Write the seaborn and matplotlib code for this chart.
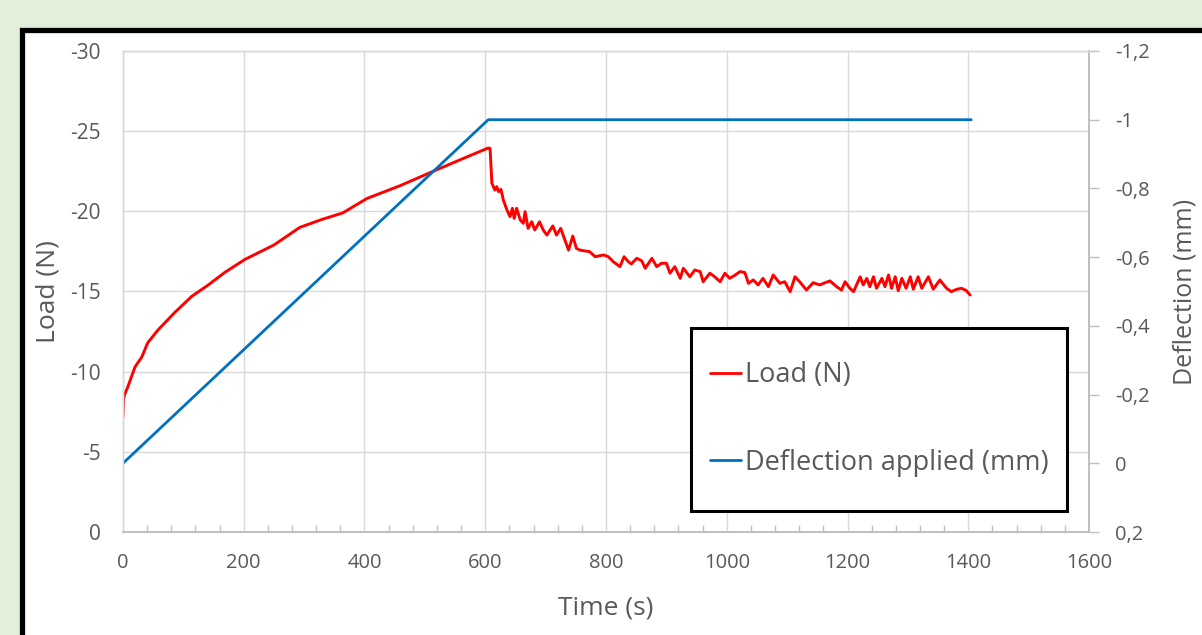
import matplotlib
matplotlib.use("Agg")
import matplotlib.pyplot as plt
import seaborn as sns
import pandas as pd
from matplotlib.patches import Rectangle

# ---------------- data ----------------
load_time = [0, 1, 3, 8, 20, 31, 41, 58, 86, 114, 141, 169, 202, 250, 293, 330, 364, 404,
             459, 514, 570, 605, 608, 611, 616, 619, 622, 626, 630, 636, 641, 645, 648, 652,
             658, 663, 666, 671, 677, 682, 690, 696, 702, 712, 718, 725, 732, 738, 745, 751,
             757, 773, 782, 796, 804, 812, 823, 830, 837, 842, 851, 859, 865, 876, 884, 892,
             900, 906, 914, 923, 928, 939, 947, 956, 961, 972, 980, 989, 997, 1005, 1014,
             1022, 1030, 1036, 1044, 1052, 1060, 1069, 1077, 1088, 1096, 1105, 1113, 1121,
             1132, 1143, 1154, 1163, 1171, 1182, 1190, 1196, 1204, 1210, 1215, 1221, 1226,
             1232, 1237, 1243, 1248, 1257, 1262, 1268, 1273, 1279, 1284, 1290, 1297, 1304,
             1309, 1317, 1323, 1334, 1342, 1353, 1364, 1372, 1381, 1389, 1397, 1403]
load_values = [-7.2, -8.3, -8.6, -9.05, -10.3, -10.9, -11.8, -12.6, -13.7, -14.7, -15.4, -16.2,
               -17.0, -17.9, -19.0, -19.5, -19.9, -20.8, -21.6, -22.5, -23.4, -23.95, -23.93,
               -21.75, -21.33, -21.54, -21.23, -21.37, -20.70, -20.08, -19.67, -20.19, -19.56,
               -20.19, -19.46, -19.25, -19.98, -18.94, -19.35, -18.84, -19.35, -18.84, -18.52,
               -19.09, -18.52, -18.94, -18.20, -17.58, -18.46, -17.69, -17.58, -17.48, -17.17,
               -17.28, -17.17, -16.86, -16.55, -17.17, -16.86, -16.72, -17.07, -16.92, -16.45,
               -17.07, -16.55, -16.76, -16.76, -16.14, -16.55, -15.82, -16.45, -15.92, -16.34,
               -16.24, -15.61, -16.14, -15.92, -15.61, -16.14, -15.82, -16.03, -16.24, -16.18,
               -15.51, -15.72, -15.41, -15.82, -15.30, -16.03, -15.51, -15.61, -14.99, -15.92,
               -15.60, -15.09, -15.55, -15.41, -15.55, -15.66, -15.30, -15.09, -15.61, -15.20,
               -14.99, -15.41, -15.92, -15.41, -15.82, -15.30, -15.92, -15.20, -15.82, -15.30,
               -16.03, -15.20, -15.92, -15.05, -15.82, -15.20, -15.92, -15.14, -15.92, -15.20,
               -15.92, -15.14, -15.72, -15.20, -14.99, -15.14, -15.20, -15.05, -14.78]

defl_time = [0, 605, 1405]
defl_values = [0.0, -1.0, -1.0]

x_ticks = [0, 200, 400, 600, 800, 1000, 1200, 1400, 1600]
load_ticks = [0, -5, -10, -15, -20, -25, -30]
load_tick_labels = ["0", "-5", "-10", "-15", "-20", "-25", "-30"]
defl_ticks = [0.2, 0.0, -0.2, -0.4, -0.6, -0.8, -1.0, -1.2]
defl_tick_labels = ["0,2", "0", "-0,2", "-0,4", "-0,6", "-0,8", "-1", "-1,2"]

load_label = "Load (N)"
defl_label = "Deflection applied (mm)"

# ---------------- style ----------------
sns.set_theme(style="white")
plt.rcParams['font.family'] = ['Open Sans', 'DejaVu Sans']

GRID = "#d9d9d9"
AXIS = "#bfbfbf"
TXT = "#595959"
RED = "#ff0000"
BLUE = "#0070c0"

fig = plt.figure(figsize=(12.02, 6.35), dpi=100)
fig.patch.set_facecolor("#e2efda")

# outer black frame (cut off at right and bottom)
frame = Rectangle((0.0187, -0.2), 1.2, 1.1535, transform=fig.transFigure,
                  facecolor="white", edgecolor="black", linewidth=3.8, zorder=-10)
fig.patches.append(frame)

ax = fig.add_axes([0.1023, 0.1622, 0.8037, 0.7575])
ax.set_facecolor("none")
ax2 = ax.twinx()
ax2.set_facecolor("none")

df_load = pd.DataFrame({"t": load_time, "v": load_values})
df_defl = pd.DataFrame({"t": defl_time, "v": defl_values})

sns.lineplot(data=df_load, x="t", y="v", ax=ax, color=RED, linewidth=2.1,
             estimator=None, label=load_label, legend=False)
sns.lineplot(data=df_defl, x="t", y="v", ax=ax2, color=BLUE, linewidth=2.0,
             estimator=None, label=defl_label, legend=False)

ax.set_xlim(0, 1600)
ax.set_ylim(0, -30)
ax2.set_ylim(0.2, -1.2)

ax.set_xticks(x_ticks)
ax.set_xticks(list(range(0, 1601, 40)), minor=True)
ax.set_yticks(load_ticks)
ax.set_yticklabels(load_tick_labels)
ax2.set_yticks(defl_ticks)
ax2.set_yticklabels(defl_tick_labels)

ax.grid(True, which="major", color=GRID, linewidth=1.0)
ax.set_axisbelow(True)

for a in (ax, ax2):
    for s in ("left", "top"):
        a.spines[s].set_color(GRID)
        a.spines[s].set_linewidth(1.0)
    a.spines["bottom"].set_color(AXIS)
    a.spines["right"].set_color(AXIS)
    a.spines["bottom"].set_linewidth(1.2)
    a.spines["right"].set_linewidth(1.2)

ax.tick_params(axis="y", length=0, pad=16, labelsize=15, labelcolor=TXT)
ax.tick_params(axis="x", which="major", direction="in", length=0, pad=15,
               labelsize=14.5, labelcolor=TXT)
ax.tick_params(axis="x", which="minor", direction="in", length=5, width=1.0,
               color=AXIS, bottom=True)
ax2.tick_params(axis="y", direction="out", length=7, width=1.0, color=AXIS,
                pad=12, labelsize=14.5, labelcolor=TXT, right=True)

ax.set_xlabel("Time (s)", fontsize=19, color=TXT, labelpad=16)
ax.set_ylabel("Load (N)", fontsize=19, color=TXT, labelpad=7)
ax2.set_ylabel("Deflection (mm)", fontsize=18, color=TXT, labelpad=16)

# legend box
box = Rectangle((0.588, 0.0437), 0.389, 0.3805, transform=ax2.transAxes,
                facecolor="white", edgecolor="black", linewidth=2.2, zorder=5)
ax2.add_patch(box)
h1, l1 = ax.get_legend_handles_labels()
h2, l2 = ax2.get_legend_handles_labels()
leg = ax2.legend(h1 + h2, l1 + l2, loc="center left", bbox_to_anchor=(0.6077, 0.235),
                 frameon=False, fontsize=19.5, handlelength=1.15, handletextpad=0.15,
                 labelspacing=2.2, borderpad=0, borderaxespad=0, labelcolor=TXT)
leg.set_zorder(6)
for line in leg.get_lines():
    line.set_linewidth(2.0)

fig.savefig("out.png", dpi=100, facecolor=fig.get_facecolor())
